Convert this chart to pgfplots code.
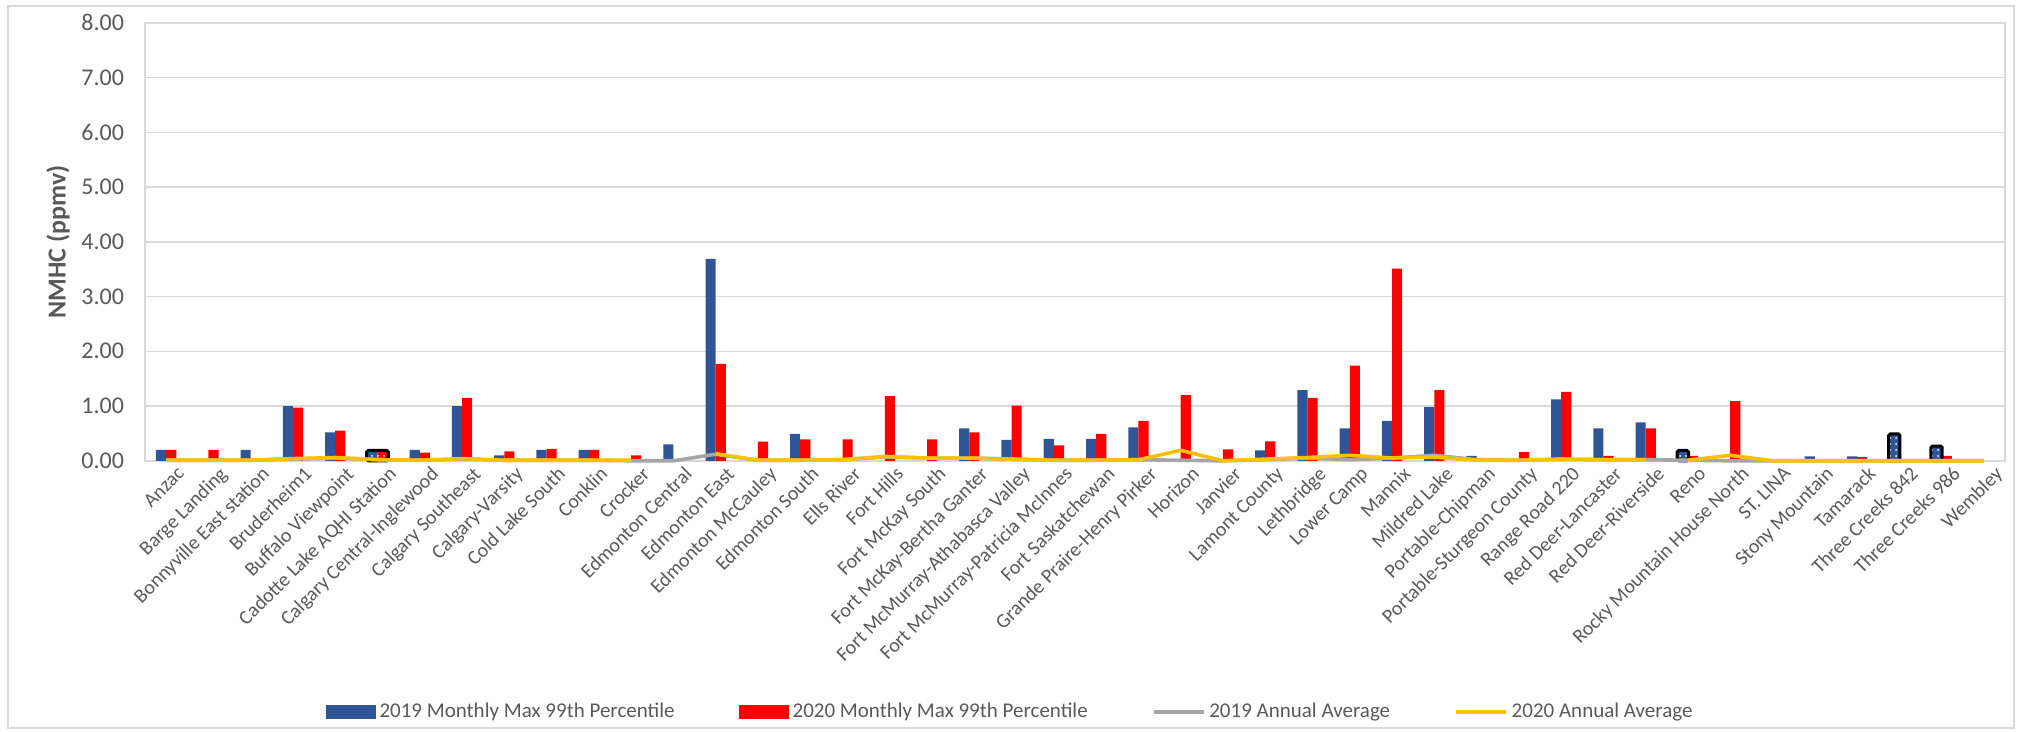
\documentclass[border=0pt]{standalone}
\usepackage{fontspec}
\setmainfont{Carlito}
\usepackage{pgfplots}
\usepackage{pgfplotstable}
\pgfplotsset{compat=1.18}
\usetikzlibrary{patterns}

\definecolor{c19}{HTML}{2F5597}
\definecolor{c20}{HTML}{FF0000}
\definecolor{g19}{HTML}{A5A5A5}
\definecolor{g20}{HTML}{FFC000}
\definecolor{gridc}{HTML}{D9D9D9}
\definecolor{txt}{HTML}{595959}

\pgfplotstableread{
x b19 r20
0 0.20 0.20
1 nan 0.20
2 0.20 nan
3 1.00 0.97
4 0.52 0.55
5 0.20 0.20
6 0.20 0.15
7 1.00 1.15
8 0.10 0.17
9 0.20 0.22
10 0.20 0.20
11 nan 0.10
12 0.30 nan
13 3.69 1.77
14 nan 0.35
15 0.49 0.39
16 nan 0.39
17 nan 1.18
18 nan 0.39
19 0.59 0.52
20 0.38 1.01
21 0.40 0.28
22 0.40 0.49
23 0.61 0.73
24 nan 1.20
25 nan 0.21
26 0.19 0.355
27 1.29 1.15
28 0.59 1.74
29 0.73 3.51
30 0.98 1.29
31 0.09 nan
32 nan 0.16
33 1.12 1.26
34 0.59 0.09
35 0.70 0.59
36 0.18 0.09
37 nan 1.09
38 nan nan
39 0.08 nan
40 0.08 0.07
41 0.48 nan
42 0.26 0.09
43 nan nan
}\bars

\pgfplotstableread{
x a19 a20
0 0.01 0.01
1 0.01 0.01
2 0.01 0.01
3 0.03 0.04
4 0.05 0.06
5 0.02 0.02
6 0.01 0.01
7 0.03 0.04
8 0.01 0.01
9 0.01 0.01
10 0.01 0.01
11 0.00 0.01
12 0.00 nan
13 0.12 0.13
14 0.01 0.01
15 0.01 0.01
16 0.02 0.02
17 0.07 0.08
18 0.05 0.05
19 0.05 0.05
20 0.03 0.03
21 0.01 0.01
22 0.01 0.01
23 0.02 0.02
24 0.01 0.19
25 0.00 0.00
26 0.02 0.03
27 0.05 0.06
28 0.02 0.10
29 0.05 0.05
30 0.10 0.07
31 0.02 0.01
32 0.01 0.01
33 0.03 0.03
34 0.02 0.02
35 0.02 0.02
36 0.01 nan
37 0.00 nan
38 0.00 nan
39 0.00 nan
40 0.00 nan
41 0.00 nan
42 0.00 nan
43 0.00 nan
}\avgA

\pgfplotstableread{
x a20
36 0.01
37 0.10
38 0.00
39 0.00
40 0.00
41 0.00
42 0.00
43 0.00
}\avgB

\begin{document}
\begin{tikzpicture}
\useasboundingbox (-72.5pt,-135.6pt) rectangle (938.5pt,230.4pt);
\draw[draw=gridc, line width=0.8pt] (-68.5pt,-133.6pt) rectangle (934.5pt,227.4pt);
\begin{axis}[
  at={(0pt,0pt)}, anchor=south west,
  scale only axis, width=930pt, height=219pt,
  xmin=-0.5, xmax=43.5, ymin=0, ymax=8,
  clip=false,
  axis line style={draw=gridc, line width=0.8pt},
  ymajorgrids, major grid style={draw=gridc, line width=0.8pt},
  ytick={0,1,...,8},
  xtick={0,1,...,43},
  tick style={draw=none},
  /pgf/number format/assume math mode=true,
  yticklabel={\pgfmathprintnumber[fixed,fixed zerofill,precision=2]{\tick}},
  yticklabel style={font=\fontsize{12}{14}\selectfont, text=txt, xshift=-7pt},
  xticklabels={Anzac, Barge Landing, Bonnyville East station, Bruderheim1, Buffalo Viewpoint, Cadotte Lake AQHI Station, Calgary Central-Inglewood, Calgary Southeast, Calgary-Varsity, Cold Lake South, Conklin, Crocker, Edmonton Central, Edmonton East, Edmonton McCauley, Edmonton South, Ells River, Fort Hills, Fort McKay South, Fort McKay-Bertha Ganter, Fort McMurray-Athabasca Valley, Fort McMurray-Patricia McInnes, Fort Saskatchewan, Grande Praire-Henry Pirker, Horizon, Janvier, Lamont County, Lethbridge, Lower Camp, Mannix, Mildred Lake, Portable-Chipman, Portable-Sturgeon County, Range Road 220, Red Deer-Lancaster, Red Deer-Riverside, Reno, Rocky Mountain House North, ST. LINA, Stony Mountain, Tamarack, Three Creeks 842, Three Creeks 986, Wembley},
  xticklabel style={font=\fontsize{10}{12}\selectfont, text=txt, rotate=45, anchor=north east, inner sep=1pt, xshift=3pt, yshift=-4pt},
  ylabel={NMHC (ppmv)},
  ylabel style={at={(axis description cs:-0.0468,0.5)}, anchor=center, font=\fontsize{13}{15}\selectfont\bfseries, text=txt},
  legend columns=4,
  legend style={at={(0.4656,-0.5737)}, anchor=center, draw=none, fill=none,
    font=\fontsize{10.5}{12}\selectfont, text=txt,
    /tikz/every even column/.append style={column sep=30pt}},
]
\addplot[ybar, bar width=0.24, bar shift=-0.12, fill=c19, draw=none,
  legend image code/.code={\fill[c19] (0pt,-3.5pt) rectangle (25pt,3.5pt);}]
  table[x=x, y=b19]{\bars};
\addlegendentry{2019 Monthly Max 99th Percentile}
\addplot[ybar, bar width=0.24, bar shift=0.12, fill=c20, draw=none,
  legend image code/.code={\fill[c20] (0pt,-3.5pt) rectangle (25pt,3.5pt);}]
  table[x=x, y=r20]{\bars};
\addlegendentry{2020 Monthly Max 99th Percentile}
% highlighted bars: white dots
\addplot[ybar, bar width=0.24, bar shift=-0.12, draw=none, fill=none,
  postaction={pattern=dots, pattern color=white}, forget plot]
  coordinates {(5,0.18) (36,0.18) (41,0.48) (42,0.26)};
\addplot[ybar, bar width=0.24, bar shift=0.12, draw=none, fill=none,
  postaction={pattern=dots, pattern color=white}, forget plot]
  coordinates {(5,0.18)};
% black frames
\addplot[ybar, bar width=0.27, bar shift=-0.12, draw=black, fill=none, line width=1.5pt, rounded corners=0.8pt, forget plot]
  coordinates {(36,0.19) (41,0.49) (42,0.27)};
\addplot[ybar, bar width=0.51, bar shift=0, draw=black, fill=none, line width=1.5pt, rounded corners=0.8pt, forget plot]
  coordinates {(5,0.19)};
% averages
\addplot[g19, line width=1.8pt, line join=round, mark=none, unbounded coords=jump,
  legend image code/.code={\draw[g19, line width=1.8pt] (0pt,0pt) -- (25pt,0pt);}]
  table[x=x, y=a19]{\avgA};
\addlegendentry{2019 Annual Average}
\addplot[g20, line width=1.8pt, line join=round, mark=none, unbounded coords=jump,
  legend image code/.code={\draw[g20, line width=1.8pt] (0pt,0pt) -- (25pt,0pt);}]
  table[x=x, y=a20]{\avgA};
\addlegendentry{2020 Annual Average}
\addplot[g20, line width=1.8pt, line join=round, mark=none, forget plot]
  table[x=x, y=a20]{\avgB};
\end{axis}
\end{tikzpicture}
\end{document}
